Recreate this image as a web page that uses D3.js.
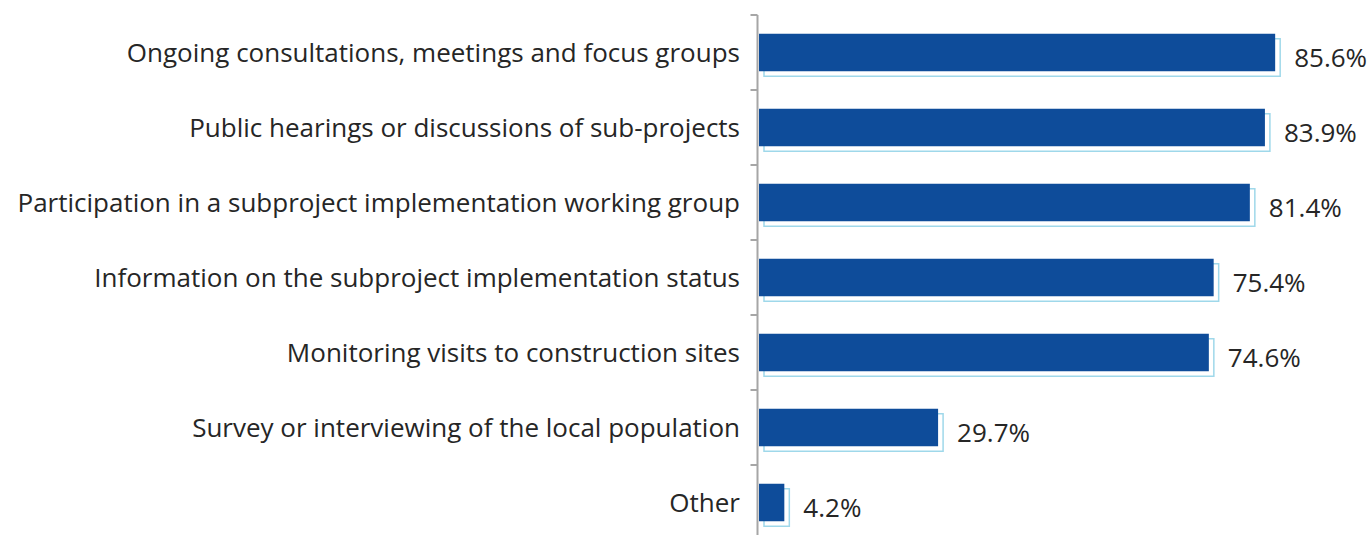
<!DOCTYPE html>
<html>
<head>
<meta charset="utf-8">
<script src="https://cdn.jsdelivr.net/npm/d3@7"></script>
<style>
  html, body { margin: 0; padding: 0; background: #ffffff; }
  svg { display: block; }
</style>
</head>
<body>
<svg id="chart" width="1367" height="535"></svg>
<script>
const categories = [
  "Ongoing consultations, meetings and focus groups",
  "Public hearings or discussions of sub-projects",
  "Participation in a subproject implementation working group",
  "Information on the subproject implementation status",
  "Monitoring visits to construction sites",
  "Survey or interviewing of the local population",
  "Other"
];
const values = [85.6, 83.9, 81.4, 75.4, 74.6, 29.7, 4.2];
const valueLabels = ["85.6%", "83.9%", "81.4%", "75.4%", "74.6%", "29.7%", "4.2%"];

const svg = d3.select("#chart");
const fontFamily = "'Open Sans', 'Noto Sans', sans-serif";
const fontSize = 26;
const textColor = "#262626";

const x0 = 759;
const x = d3.scaleLinear().domain([0, 100]).range([x0, x0 + 603]);
const y = d3.scaleBand().domain(categories).range([15, 540]).paddingInner(0.5).paddingOuter(0.25);

const data = categories.map((c, i) => ({ c, v: values[i], l: valueLabels[i] }));

// shadows
svg.append("g").selectAll("rect").data(data).join("rect")
  .attr("x", x(0) + 5)
  .attr("y", d => y(d.c) + 5)
  .attr("width", d => x(d.v) - x(0))
  .attr("height", y.bandwidth())
  .attr("fill", "#ffffff")
  .attr("stroke", "#9fd8ea")
  .attr("stroke-width", 1.5);

// bars
svg.append("g").selectAll("rect").data(data).join("rect")
  .attr("x", x(0))
  .attr("y", d => y(d.c))
  .attr("width", d => x(d.v) - x(0))
  .attr("height", y.bandwidth())
  .attr("fill", "#0e4c9a");

// axis
const axisX = 757.5;
const axisG = svg.append("g").attr("stroke", "#a6a6a6").attr("stroke-width", 2);
axisG.append("line").attr("x1", axisX).attr("x2", axisX).attr("y1", y.range()[0]).attr("y2", y.range()[1]);
const bounds = d3.range(categories.length + 1).map(i => y.range()[0] + i * y.step());
axisG.selectAll("line.tick").data(bounds).join("line").attr("class", "tick")
  .attr("x1", axisX - 7).attr("x2", axisX).attr("y1", d => d).attr("y2", d => d);

// category labels
svg.append("g").selectAll("text").data(data).join("text")
  .attr("x", 740)
  .attr("y", d => y(d.c) + y.bandwidth() / 2)
  .attr("dy", "0.35em")
  .attr("text-anchor", "end")
  .attr("font-family", fontFamily)
  .attr("font-size", fontSize)
  .attr("fill", textColor)
  .text(d => d.c);

// value labels
svg.append("g").selectAll("text").data(data).join("text")
  .attr("x", d => x(d.v) + 19)
  .attr("y", d => y(d.c) + y.bandwidth() / 2 + 5)
  .attr("dy", "0.35em")
  .attr("font-family", fontFamily)
  .attr("font-size", fontSize)
  .attr("fill", textColor)
  .text(d => d.l);
</script>
</body>
</html>
